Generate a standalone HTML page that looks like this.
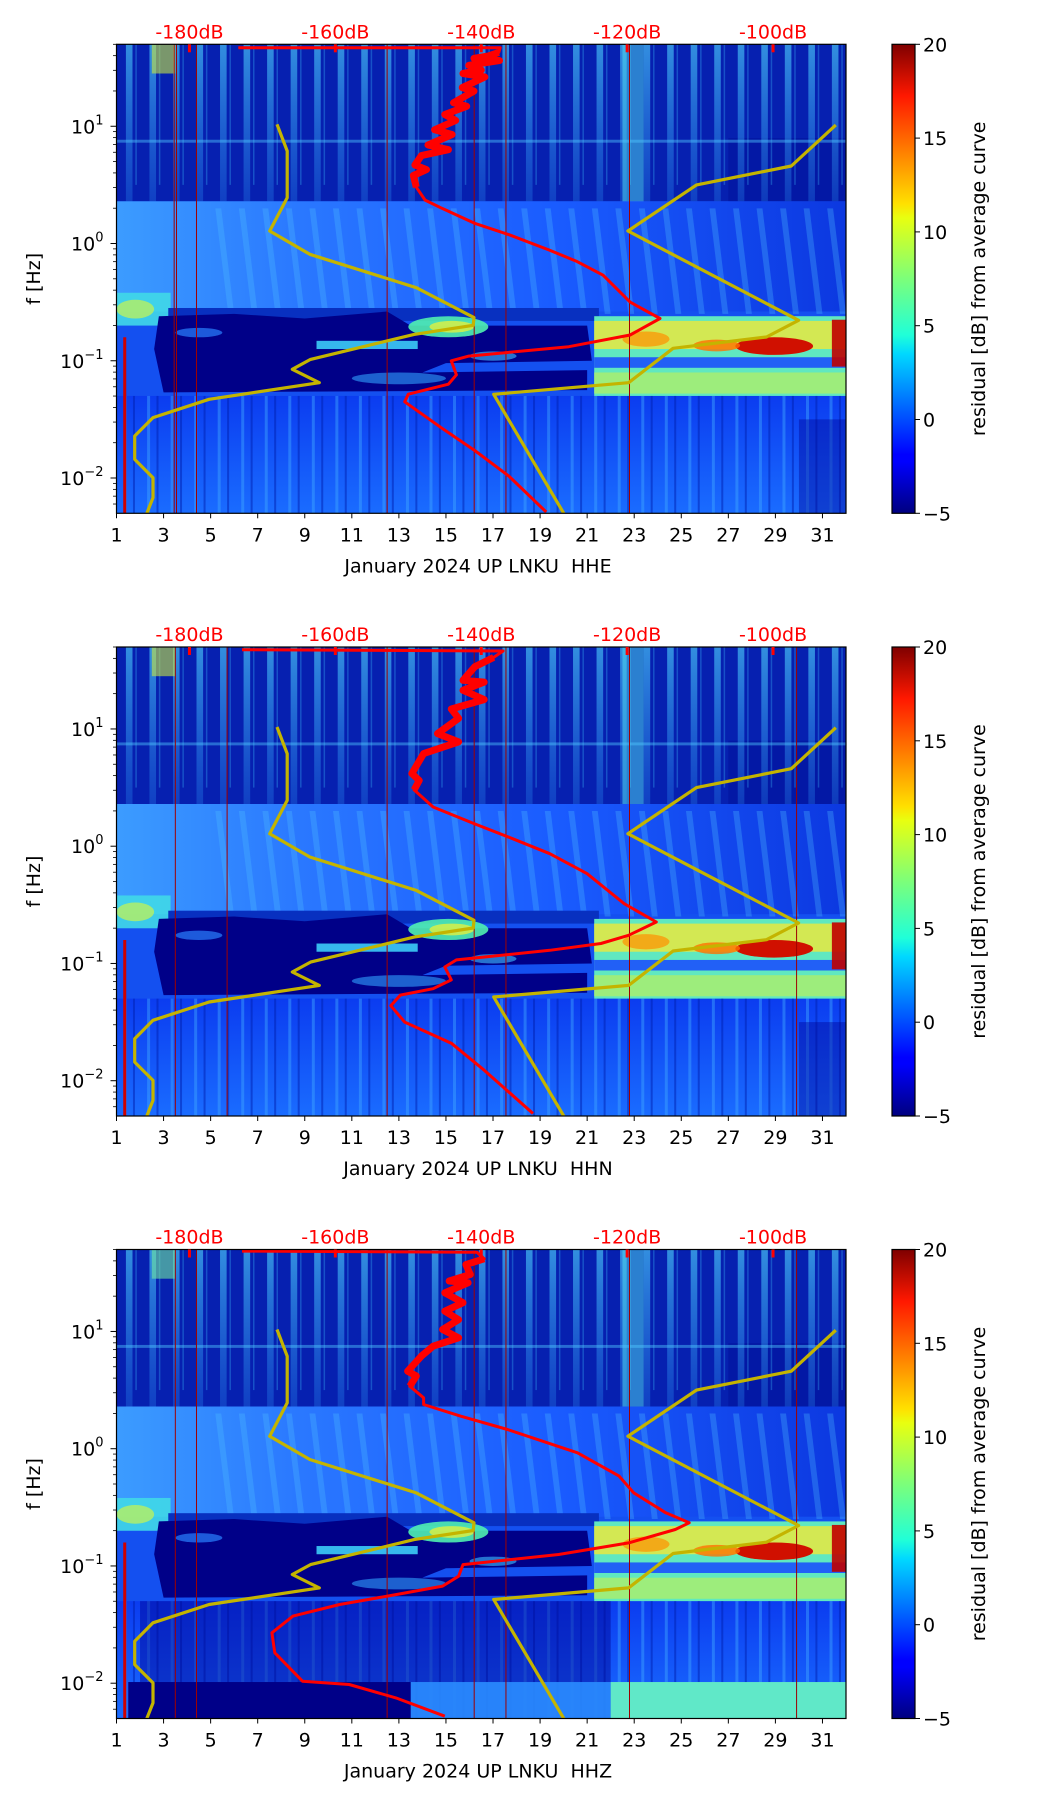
<!DOCTYPE html>
<html><head><meta charset="utf-8">
<style>
body{margin:0;background:#fff;width:1052px;height:1806px;overflow:hidden;font-family:"DejaVu Sans","Liberation Sans",sans-serif}
svg{display:block}
</style></head>
<body>
<svg id="fig" width="1052" height="1806" xmlns="http://www.w3.org/2000/svg">
<defs>
 <linearGradient id="jet" x1="0" y1="1" x2="0" y2="0">
  <stop offset="0" stop-color="#00007f"/><stop offset="0.11" stop-color="#0000ff"/>
  <stop offset="0.125" stop-color="#0000ff"/><stop offset="0.34" stop-color="#00d8ff"/>
  <stop offset="0.38" stop-color="#20ffd8"/><stop offset="0.5" stop-color="#7cff7a"/>
  <stop offset="0.63" stop-color="#e8ff10"/><stop offset="0.66" stop-color="#ffe000"/>
  <stop offset="0.89" stop-color="#ff1800"/><stop offset="1" stop-color="#7f0000"/>
 </linearGradient>
 <linearGradient id="streakG" x1="0" y1="0" x2="0" y2="1">
  <stop offset="0" stop-color="#50d8ff" stop-opacity="0.6"/>
  <stop offset="1" stop-color="#30a0ff" stop-opacity="0.25"/>
 </linearGradient>
 <linearGradient id="midG" x1="0" y1="0" x2="1" y2="0">
  <stop offset="0" stop-color="#3c9cff"/><stop offset="0.25" stop-color="#2a78ff"/>
  <stop offset="0.6" stop-color="#1a5cff"/><stop offset="1" stop-color="#0c38e0"/>
 </linearGradient>
 <linearGradient id="lowG" x1="0" y1="0" x2="0" y2="1">
  <stop offset="0" stop-color="#0b3cf0"/><stop offset="1" stop-color="#1a6cff"/>
 </linearGradient>
</defs>
</svg>
<script>
// ---- data ----
const panelNames = ['HHE','HHN','HHZ'];
const xTickDays = [1,3,5,7,9,11,13,15,17,19,21,23,25,27,29,31];
const yTickExp = [-2,-1,0,1];
const dbTicks = [-180,-160,-140,-120,-100];
const cbTicks = [-5,0,5,10,15,20];
const nlnmDb   = [-168.0,-166.6,-166.6,-169.0,-163.5,-148.9,-141.0,-141.1,-149.2,-163.4,-165.9,-162.2,-177.3,-185.0,-187.5,-187.5,-185.0,-185.0,-185.9];
const nlnmLogF = [1.017,0.789,0.391,0.107,-0.092,-0.377,-0.632,-0.698,-0.775,-0.988,-1.073,-1.187,-1.329,-1.485,-1.642,-1.841,-1.997,-2.168,-2.31];
const nhnmDb   = [-91.4,-97.5,-110.5,-119.9,-96.5,-100.9,-113.7,-119.8,-138.3,-128.6];
const nhnmLogF = [1.011,0.661,0.5,0.107,-0.655,-0.797,-0.894,-1.187,-1.286,-2.31];
const hheDb   = [-173.3,-137.4,-137.6,-139,-141,-137.5,-141.7,-140,-142.5,-139.5,-142.6,-141,-143.8,-142,-145,-143.5,-146.4,-144,-147.3,-144.5,-148.2,-149.1,-147.5,-149.3,-148.9,-147.7,-145.4,-140.8,-136.2,-130.7,-127,-123.3,-119.6,-115.5,-119.6,-128,-141.7,-144.1,-143.4,-144.5,-150,-150.5,-145.4,-140.8,-136.2,-131.1];
const hheLogF = [1.67,1.67,1.63,1.6,1.58,1.56,1.52,1.48,1.45,1.42,1.33,1.3,1.2,1.17,1.1,1.05,0.97,0.93,0.84,0.8,0.75,0.67,0.63,0.58,0.48,0.37,0.3,0.17,0.075,-0.055,-0.15,-0.27,-0.5,-0.64,-0.78,-0.88,-0.96,-1.0,-1.12,-1.2,-1.285,-1.35,-1.575,-1.77,-1.985,-2.29];
const hhnDb   = [-172.8,-137.0,-138.3,-140.9,-142.5,-139.6,-142.5,-139.6,-144.1,-143.1,-146.0,-143.1,-147.9,-149.5,-148.5,-149.2,-146.6,-140.9,-135.7,-130.6,-125.5,-120.4,-116.0,-119.8,-123.6,-130.6,-143.4,-145.0,-144.1,-146.6,-151.1,-152.4,-150.5,-144.1,-139.6,-132.9];
const hhnLogF = [1.676,1.665,1.61,1.53,1.415,1.40,1.33,1.25,1.17,1.09,0.96,0.89,0.79,0.62,0.56,0.48,0.334,0.19,0.064,-0.064,-0.234,-0.49,-0.646,-0.76,-0.83,-0.888,-0.97,-1.03,-1.14,-1.215,-1.27,-1.36,-1.50,-1.68,-1.91,-2.28];
const hhzDb   = [-172.8,-140.6,-139.6,-142.1,-141.5,-144.4,-141.8,-145.0,-142.5,-145.0,-143.1,-145.3,-143.1,-146.6,-148.2,-150.1,-148.9,-149.8,-147.9,-147.9,-142.8,-136.4,-126.8,-121.1,-119.1,-114.7,-111.5,-113.4,-119.8,-129.4,-142.5,-143.1,-145.3,-151.7,-159.4,-165.8,-168.7,-168.3,-164.5,-158.1,-151.7,-145.0];
const hhzLogF = [1.685,1.676,1.62,1.57,1.486,1.43,1.415,1.33,1.245,1.173,1.10,1.017,0.946,0.874,0.79,0.661,0.62,0.533,0.434,0.377,0.277,0.164,-0.035,-0.234,-0.376,-0.547,-0.632,-0.689,-0.803,-0.902,-0.988,-1.087,-1.172,-1.244,-1.329,-1.428,-1.57,-1.741,-1.983,-2.011,-2.125,-2.281];
const eventDays = [[3.45,3.55,4.4,12.5,16.2,17.55,22.8],[3.5,5.7,12.5,16.2,17.55,22.8,29.9],[3.5,4.4,12.5,16.2,17.55,22.8,29.9]];

// ---- geometry ----
const NS = 'http://www.w3.org/2000/svg';
const svg = document.getElementById('fig');
const L = 116.5, R = 846, H = 469;
const tops = [44.3, 647, 1249.5];
const LOGMAX = 1.699, LOGMIN = -2.301;
function xDay(d){ return L + (d-1)*(R-L)/31; }
function xDb(v){ return L + (v+190)*(R-L)/100; }
function yLog(l, t){ return t + (LOGMAX-l)*H/(LOGMAX-LOGMIN); }
function mk(tag, attrs, parent){
  const e = document.createElementNS(NS, tag);
  for (const k in attrs) e.setAttribute(k, attrs[k]);
  (parent||svg).appendChild(e);
  return e;
}
function rectLD(g, d0, d1, l0, l1, t, fill, op){
  return mk('rect', {x:xDay(d0), y:yLog(l0,t), width:xDay(d1)-xDay(d0), height:yLog(l1,t)-yLog(l0,t), fill:fill, opacity:(op==null?1:op)}, g);
}
function ellLD(g, d0, d1, l0, l1, t, fill, op){
  return mk('ellipse', {cx:(xDay(d0)+xDay(d1))/2, cy:(yLog(l0,t)+yLog(l1,t))/2, rx:(xDay(d1)-xDay(d0))/2, ry:(yLog(l1,t)-yLog(l0,t))/2, fill:fill, opacity:(op==null?1:op)}, g);
}

panelNames.forEach((name, p) => {
  const t = tops[p], B = t + H;
  const clip = mk('clipPath', {id:'clip'+p});
  mk('rect', {x:L, y:t, width:R-L, height:H}, clip);
  const bg = mk('g', {'clip-path':'url(#clip'+p+')'});
  
  
  rectLD(bg, 1, 32, LOGMAX, LOGMIN, t, '#1450f0');
  // top region
  rectLD(bg, 1, 32, LOGMAX, 0.36, t, '#0620b0');
  rectLD(bg, 27, 32, 0.9, 0.36, t, '#00109a', 0.5);
  for (let d = 1; d <= 31; d++) {
    mk('rect', {x:xDay(d+0.4), y:t, width:(R-L)/31*0.28, height:yLog(0.36,t)-t, fill:'url(#streakG)'}, bg);
  }
  for (let d = 1; d <= 31; d++) {
    mk('rect', {x:xDay(d+0.8), y:t, width:1.5, height:yLog(0.5,t)-t, fill:'#40c8ff', opacity:0.3}, bg);
  }
  rectLD(bg, 22.5, 23.4, LOGMAX, 0.2, t, '#50e0f0', 0.5);
  rectLD(bg, 2.5, 3.5, LOGMAX, 1.45, t, p==2 ? '#70e8a0' : '#c8e840', 0.6);
  rectLD(bg, 1, 32, 0.885, 0.86, t, '#50c8ff', 0.45);
  // middle region
  mk('rect', {x:L, y:yLog(0.36,t), width:R-L, height:yLog(-0.58,t)-yLog(0.36,t), fill:'url(#midG)'}, bg);
  for (let d = 5; d <= 31; d++) {
    const a = yLog(0.3,t), b = yLog(-0.6,t);
    mk('polygon', {points:`${xDay(d+0.2)},${a} ${xDay(d+0.45)},${a} ${xDay(d+1.0)},${b} ${xDay(d+0.75)},${b}`, fill:'#50c0ff', opacity:0.3}, bg);
  }
  rectLD(bg, 1, 3.3, -0.42, -0.7, t, '#40d8e8', 0.9);
  ellLD(bg, 1, 2.6, -0.48, -0.64, t, '#b8f060', 0.8);
  rectLD(bg, 3.2, 21.5, -0.55, -0.66, t, '#0830c0');
  mk('polygon', {points:[[2.8,-0.62],[6,-0.6],[9,-0.64],[12.5,-0.58],[13.5,-0.7],[21,-0.7],[21.2,-1.0],[15,-1.02],[14,-1.1],[21,-1.08],[21,-1.25],[3,-1.27],[2.6,-0.9]].map(q=>xDay(q[0])+','+yLog(q[1],t)).join(' '), fill:'#000088'}, bg);
  rectLD(bg, 9.5, 13.8, -0.83, -0.9, t, '#40d8ff', 0.85);
  ellLD(bg, 13.4, 16.8, -0.62, -0.8, t, '#50f0b0', 0.9);
  ellLD(bg, 14.3, 16.2, -0.66, -0.76, t, '#e0f040', 0.8);
  ellLD(bg, 3.5, 5.5, -0.72, -0.8, t, '#2a80ff', 0.7);
  ellLD(bg, 11, 15, -1.1, -1.2, t, '#30a0ff', 0.6);
  ellLD(bg, 16, 18, -0.92, -1.0, t, '#40c0ff', 0.6);
  // right band
  rectLD(bg, 21.3, 32, -0.62, -1.33, t, '#60e8c0');
  rectLD(bg, 21.3, 32, -0.66, -0.9, t, '#e8e840', 0.85);
  rectLD(bg, 21.3, 32, -0.97, -1.06, t, '#1848ff', 0.85);
  rectLD(bg, 21.3, 32, -1.1, -1.28, t, '#b8f060', 0.7);
  ellLD(bg, 27.3, 30.6, -0.8, -0.95, t, '#d01000');
  ellLD(bg, 25.5, 27.5, -0.82, -0.92, t, '#ff7000', 0.8);
  rectLD(bg, 31.4, 32, -0.65, -1.05, t, '#c00000', 0.9);
  ellLD(bg, 22.5, 24.5, -0.75, -0.88, t, '#ff9000', 0.7);
  // bottom region
  const lowTop = -1.3;
  mk('rect', {x:L, y:yLog(lowTop,t), width:R-L, height:B-yLog(lowTop,t), fill:'url(#lowG)'}, bg);
  for (let d = 1; d <= 31; d += 1) {
    mk('rect', {x:xDay(d+0.3), y:yLog(lowTop,t), width:3, height:B-yLog(lowTop,t), fill:'#40a8ff', opacity:0.45}, bg);
    mk('rect', {x:xDay(d+0.7), y:yLog(lowTop,t), width:2, height:B-yLog(lowTop,t), fill:'#0020b0', opacity:0.5}, bg);
  }
  if (p == 2) {
    rectLD(bg, 2, 22, lowTop, LOGMIN, t, '#000090', 0.45);
    rectLD(bg, 13.5, 22, -1.99, LOGMIN, t, '#2a8cff', 0.9);
    rectLD(bg, 22, 32, -1.99, LOGMIN, t, '#60e8c8');
    rectLD(bg, 1.5, 13.5, -1.99, LOGMIN, t, '#000088');
  } else {
    rectLD(bg, 30, 32, -1.5, LOGMIN, t, '#000090', 0.4);
  }
  eventDays[p].forEach(d => {
    const ln = mk('line', {x1:xDay(d), x2:xDay(d), y1:t, y2:B, stroke:'#a00000', 'stroke-width':1}, bg);
    
    
  });
  mk('line', {x1:xDay(1.35), x2:xDay(1.35), y1:yLog(-0.8,t), y2:B, stroke:'#d00000', 'stroke-width':3}, bg);

  // curves
  const curves = mk('g', {'clip-path':'url(#clip'+p+')'});
  const mkLine = (dbs, lfs, color, w, nm) => {
    const pts = dbs.map((v,i) => xDb(v).toFixed(1)+','+yLog(lfs[i],t).toFixed(1)).join(' ');
    const pl = mk('polyline', {points:pts, fill:'none', stroke:color, 'stroke-width':w, 'stroke-linejoin':'round'}, curves);
    
    
  };
  mkLine(nlnmDb, nlnmLogF, '#c4b400', 3.2, 'nlnm-curve');
  mkLine(nhnmDb, nhnmLogF, '#c4b400', 3.2, 'nhnm-curve');
  const rd = [hheDb, hhnDb, hhzDb][p], rl = [hheLogF, hhnLogF, hhzLogF][p];
  mkLine(rd, rl, '#ff0000', 3, 'psd-curve-' + name.toLowerCase());
  const jd = [], jl = [];
  rl.forEach((l,i) => { if (i > 1 && l > 0.45) { jd.push(rd[i]); jl.push(l); } });
  mkLine(jd, jl, '#ff0000', 7, 'psd-curve-jitter-' + name.toLowerCase());

  const fr = mk('rect', {x:L, y:t, width:R-L, height:H, fill:'none', stroke:'#000', 'stroke-width':1.2});
  
  

  xTickDays.forEach(d => {
    mk('line', {x1:xDay(d), x2:xDay(d), y1:B, y2:B+5, stroke:'#000', 'stroke-width':1});
    const tx = mk('text', {x:xDay(d), y:B+28, 'text-anchor':'middle', 'font-size':19, fill:'#000'});
    tx.textContent = d;
    
    
  });
  const xl = mk('text', {x:478, y:B+59, 'text-anchor':'middle', 'font-size':19, fill:'#000', style:'white-space:pre'});
  xl.textContent = 'January 2024 UP LNKU  ' + name;
  
  

  yTickExp.forEach(e => {
    const y = yLog(e, t);
    mk('line', {x1:L-6, x2:L, y1:y, y2:y, stroke:'#000', 'stroke-width':1});
    const tx = mk('text', {x:L-13, y:y+7, 'text-anchor':'end', 'font-size':19, fill:'#000'});
    
    
    const a = mk('tspan', {}, tx); a.textContent = '10';
    const b = mk('tspan', {dy:-9, 'font-size':13}, tx); b.textContent = (e < 0 ? '\u2212' + (-e) : e);
  });
  for (let e = -3; e <= 1; e++) for (let m = 2; m <= 9; m++) {
    const l = e + Math.log10(m);
    if (l > LOGMIN && l < LOGMAX) {
      const y = yLog(l, t);
      mk('line', {x1:L-3.5, x2:L, y1:y, y2:y, stroke:'#000', 'stroke-width':0.8});
    }
  }
  const yl = mk('text', {x:0, y:0, transform:`translate(40,${t+H/2}) rotate(-90)`, 'text-anchor':'middle', 'font-size':19, fill:'#000'});
  yl.textContent = 'f [Hz]';
  
  

  dbTicks.forEach(v => {
    mk('line', {x1:xDb(v), x2:xDb(v), y1:t, y2:t+8, stroke:'#ff0000', 'stroke-width':3});
    const tx = mk('text', {x:xDb(v), y:t-6, 'text-anchor':'middle', 'font-size':19, fill:'#ff0000'});
    tx.textContent = v + 'dB';
    
    
  });

  const cb = mk('rect', {x:892, y:t, width:23, height:H, fill:'url(#jet)', stroke:'#000', 'stroke-width':1.2});
  
  
  cbTicks.forEach(v => {
    const y = t + H - (v+5)/25*H;
    mk('line', {x1:915, x2:920, y1:y, y2:y, stroke:'#000', 'stroke-width':1});
    const tx = mk('text', {x:923, y:y+7, 'font-size':19, fill:'#000'});
    tx.textContent = v < 0 ? '\u2212' + (-v) : v;
    
    
  });
  const cl = mk('text', {x:0, y:0, transform:`translate(985,${t+H/2}) rotate(-90)`, 'text-anchor':'middle', 'font-size':19, fill:'#000'});
  cl.textContent = 'residual [dB] from average curve';
  
  
});
</script>
</body></html>
